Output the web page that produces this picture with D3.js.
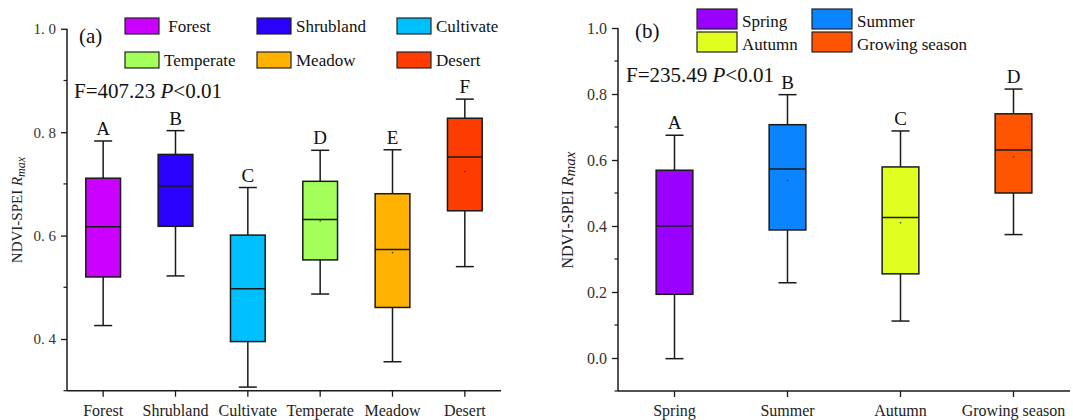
<!DOCTYPE html>
<html><head><meta charset="utf-8">
<script src="https://cdn.jsdelivr.net/npm/d3@7"></script>
<style>body{margin:0;background:#fff}svg text{font-family:"Liberation Serif","Times New Roman","DejaVu Serif",serif !important}</style>
</head><body><svg id="c" width="1073" height="420"></svg>
<script>
// Panel (a) data
const catsA = ["Forest","Shrubland","Cultivate","Temperate","Meadow","Desert"];
const legendA = [" Forest","Shrubland","Cultivate","Temperate","Meadow","Desert"];
const colorsA = ["#CC00FF","#2A00FF","#00BFFF","#A3FF5A","#FFB300","#FF3C00"];
const lowA = [0.426,0.522,0.307,0.487,0.356,0.540];
const q1A = [0.520,0.618,0.395,0.553,0.461,0.648];
const medA = [0.617,0.696,0.497,0.631,0.573,0.752];
const q3A = [0.711,0.757,0.601,0.705,0.681,0.827];
const highA = [0.783,0.803,0.693,0.765,0.766,0.864];
const meanA = [0.609,0.676,0.497,0.628,0.567,0.724];
const lettersA = ["A","B","C","D","E","F"];
const ticksA = [0.4,0.6,0.8,1.0];
const minorA = [0.3,0.5,0.7,0.9];

// Panel (b) data
const catsB = ["Spring","Summer","Autumn","Growing season"];
const colorsB = ["#9900FF","#0A84FF","#E0FF20","#FF5500"];
const lowB = [-0.002,0.228,0.112,0.374];
const q1B = [0.193,0.388,0.255,0.500];
const medB = [0.400,0.573,0.426,0.630];
const q3B = [0.569,0.707,0.579,0.740];
const highB = [0.675,0.798,0.688,0.815];
const meanB = [0.366,0.538,0.410,0.610];
const lettersB = ["A","B","C","D"];
const ticksB = [0.0,0.2,0.4,0.6,0.8,1.0];
const minorB = [-0.1,0.1,0.3,0.5,0.7,0.9];

const svg = d3.select("#c");
const ink = "#1a1a1a";

function panel(o){
  const g = svg.append("g");
  const x = d3.scaleBand().domain(o.cats).range([o.x0,o.x1]).padding(0);
  const y = d3.scaleLinear().domain(o.yd).range([o.yb,o.yt]);
  // axes
  const ya = d3.axisLeft(y).tickValues(o.ticks).tickSize(6).tickPadding(5).tickFormat(o.fmt);
  const yg = g.append("g").attr("transform",`translate(${o.x0},0)`).call(ya);
  yg.select(".domain").attr("d",`M0,${o.yb}V${o.yt}`).attr("stroke",ink).attr("stroke-width",1.5);
  yg.selectAll(".tick line").attr("stroke",ink).attr("stroke-width",1.3);
  yg.selectAll(".tick text").attr("font-size",o.tickFs).attr("fill","#333");
  g.selectAll(".minor").data(o.minor).join("line")
    .attr("x1",o.x0-3.5).attr("x2",o.x0).attr("y1",d=>y(d)).attr("y2",d=>y(d)).attr("stroke",ink).attr("stroke-width",1.2);
  const xa = d3.axisBottom(x).tickSize(6).tickPadding(8);
  const xg = g.append("g").attr("transform",`translate(0,${o.yb})`).call(xa);
  xg.select(".domain").attr("d",`M${o.x0},0H${o.x1}`).attr("stroke",ink).attr("stroke-width",1.5);
  xg.selectAll(".tick line").attr("stroke",ink).attr("stroke-width",1.3);
  xg.selectAll(".tick text").attr("font-size",16).attr("fill","#222");

  const bw = x.bandwidth()*o.bwf, cw = 18;
  const bg = g.selectAll(".box").data(o.cats).join("g").attr("class","box")
    .attr("transform",d=>`translate(${x(d)+x.bandwidth()/2},0)`);
  bg.append("line").attr("x1",0).attr("x2",0).attr("y1",(d,i)=>y(o.high[i])).attr("y2",(d,i)=>y(o.q3[i])).attr("stroke",ink).attr("stroke-width",1.5);
  bg.append("line").attr("x1",0).attr("x2",0).attr("y1",(d,i)=>y(o.q1[i])).attr("y2",(d,i)=>y(o.low[i])).attr("stroke",ink).attr("stroke-width",1.5);
  bg.append("line").attr("x1",-cw/2).attr("x2",cw/2).attr("y1",(d,i)=>y(o.high[i])).attr("y2",(d,i)=>y(o.high[i])).attr("stroke",ink).attr("stroke-width",1.5);
  bg.append("line").attr("x1",-cw/2).attr("x2",cw/2).attr("y1",(d,i)=>y(o.low[i])).attr("y2",(d,i)=>y(o.low[i])).attr("stroke",ink).attr("stroke-width",1.5);
  bg.append("rect").attr("x",-bw/2).attr("width",bw).attr("y",(d,i)=>y(o.q3[i])).attr("height",(d,i)=>y(o.q1[i])-y(o.q3[i]))
    .attr("fill",(d,i)=>o.colors[i]).attr("stroke",ink).attr("stroke-width",1.5);
  bg.append("line").attr("x1",-bw/2).attr("x2",bw/2).attr("y1",(d,i)=>y(o.med[i])).attr("y2",(d,i)=>y(o.med[i])).attr("stroke",ink).attr("stroke-width",1.5);
  bg.append("circle").attr("r",0.8).attr("cy",(d,i)=>y(o.mean[i])).attr("fill","#333");
  bg.append("text").attr("text-anchor","middle").attr("y",(d,i)=>y(o.high[i])-6).attr("font-size",19).attr("fill","#111").text((d,i)=>o.letters[i]);

  // y label
  const yl = g.append("text").attr("transform",`translate(${o.ylx},${o.yly}) rotate(-90)`).attr("text-anchor","middle")
    .attr("font-size",o.ylfs).attr("fill","#222");
  yl.append("tspan").text("NDVI-SPEI ");
  yl.append("tspan").attr("font-style","italic").text("R");
  yl.append("tspan").attr("font-style","italic").attr("font-size",o.subfs).attr("dy",o.subdy).text("max");

  // panel label
  g.append("text").attr("x",o.plx).attr("y",o.ply).attr("font-size",21).attr("fill","#111").text(o.pl);
  const ft = g.append("text").attr("x",o.ftx).attr("y",o.fty).attr("font-size",21).attr("fill","#111");
  ft.append("tspan").text(o.ftext+" ");
  ft.append("tspan").attr("font-style","italic").text("P");
  ft.append("tspan").text("<0.01");

  // legend
  const lg = g.selectAll(".leg").data(o.legend).join("g").attr("class","leg")
    .attr("transform",(d,i)=>`translate(${o.legX[i%o.legCols]},${o.legY[Math.floor(i/o.legCols)]})`);
  lg.append("rect").attr("width",o.sw).attr("height",o.sh).attr("fill",(d,i)=>o.colors[i]).attr("stroke","#222").attr("stroke-width",1.2);
  lg.append("text").attr("x",o.sw+5).attr("y",o.sh-2).attr("font-size",17).attr("fill","#111").style("white-space","pre").text(d=>d);
}

panel({cats:catsA,legend:legendA,colors:colorsA,low:lowA,q1:q1A,med:medA,q3:q3A,high:highA,mean:meanA,letters:lettersA,
  ticks:ticksA,minor:minorA,yd:[0.3,1.0],x0:67,x1:501,yb:390.7,yt:28.8,bwf:0.48,tickFs:15,
  fmt:d=>d3.format(".1f")(d).replace(".",". "),
  ylx:22,yly:210,ylfs:15,subfs:12,subdy:3,pl:"(a)",plx:79,ply:43,ftext:"F=407.23",ftx:74,fty:98,
  legCols:3,legX:[125,257,397],legY:[18,52],sw:34,sh:16});

panel({cats:catsB,legend:catsB,colors:colorsB,low:lowB,q1:q1B,med:medB,q3:q3B,high:highB,mean:meanB,letters:lettersB,
  ticks:ticksB,minor:minorB,yd:[-0.1,1.0],x0:618,x1:1070,yb:391,yt:28,bwf:0.325,tickFs:16,
  fmt:d3.format(".1f"),
  ylx:573,yly:210,ylfs:16,subfs:15,subdy:2,pl:"(b)",plx:635,ply:38,ftext:"F=235.49",ftx:626,fty:82,
  legCols:2,legX:[697,812],legY:[9,32],sw:40,sh:20});
</script></body></html>
